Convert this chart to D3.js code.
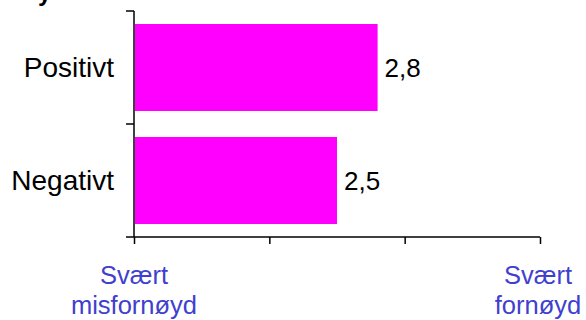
<!DOCTYPE html>
<html><head><meta charset="utf-8">
<script src="https://cdn.jsdelivr.net/npm/d3@7"></script>
<style>body{margin:0;background:#fff;}svg{display:block;font-family:"Liberation Sans",Arial,sans-serif;}</style>
</head><body>
<script>
const categories = ["Positivt", "Negativt"];
const values = [2.8, 2.5];
const valueLabels = ["2,8", "2,5"];
const tickValues = [1, 2, 3, 4];
const endLabels = [{v: 1, lines: ["Svært", "misfornøyd"]}, {v: 4, lines: ["Svært", "fornøyd"]}];

(function () {
const W = 586, H = 320;
const svg = d3.select("body").append("svg").attr("width", W).attr("height", H);
const mLeft = 134, mRight = 540, mTop = 11, mBottom = 237;

const x = d3.scaleLinear().domain([1, 4]).range([mLeft, mRight]);
const y = d3.scaleBand().domain(categories).range([mTop, mBottom]).paddingInner(0.23).paddingOuter(0.115);

// clipped title fragment
svg.append("text").attr("x", 38).attr("y", 1).attr("font-size", 24).attr("font-weight", "bold").text("y");

// bars
svg.selectAll("rect.bar").data(categories).enter().append("rect")
  .attr("x", x(1) + 1).attr("y", d => y(d))
  .attr("width", (d, i) => x(values[i]) - x(1) - 1)
  .attr("height", y.bandwidth())
  .attr("fill", "#FF00FF");

// value labels
svg.selectAll("text.val").data(categories).enter().append("text")
  .attr("x", (d, i) => x(values[i]) + 7)
  .attr("y", d => y(d) + y.bandwidth() / 2 + 9.5)
  .attr("font-size", 26).attr("fill", "#000")
  .text((d, i) => valueLabels[i]);

// category labels
svg.selectAll("text.cat").data(categories).enter().append("text")
  .attr("x", 114).attr("y", d => y(d) + y.bandwidth() / 2 + 9.5)
  .attr("text-anchor", "end").attr("font-size", 28).attr("fill", "#000")
  .text(d => d);

// y axis
const ya = svg.append("g").attr("stroke", "#000").attr("stroke-width", 1.5);
ya.append("line").attr("x1", mLeft).attr("x2", mLeft).attr("y1", mTop).attr("y2", mBottom);
[mTop, (mTop + mBottom) / 2, mBottom].forEach(t => {
  ya.append("line").attr("x1", mLeft - 8).attr("x2", mLeft).attr("y1", t).attr("y2", t);
});

// x axis
const xa = svg.append("g").attr("transform", `translate(0,${mBottom})`)
  .call(d3.axisBottom(x).tickValues(tickValues).tickSize(7).tickFormat(""));
xa.select(".domain").attr("stroke", "#000").attr("stroke-width", 1.5).attr("d", `M${mLeft},0H${mRight}`);
xa.selectAll(".tick line").attr("stroke", "#000").attr("stroke-width", 1.5);

// end labels
endLabels.forEach(e => {
  const t = svg.append("text").attr("text-anchor", "middle").attr("font-size", 25.5).attr("fill", "#4040D0");
  e.lines.forEach((l, i) => t.append("tspan").attr("x", x(e.v) - (e.v === 4 ? 2 : 0)).attr("y", 284 + i * 30).text(l));
});
})();
</script>
</body></html>
